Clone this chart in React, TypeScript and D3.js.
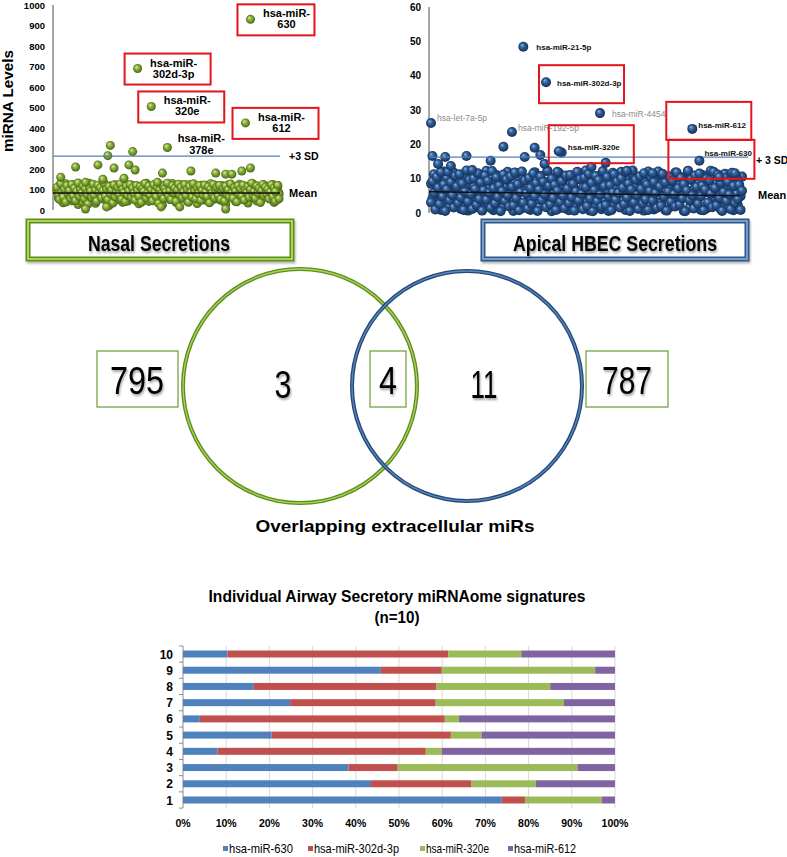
import * as d3 from 'd3';

// ---- data ----
// nasal secretions: background miRNA levels (two overlapping rows of the cloud, left to right)
const nasalLevels = [
  92, 58, 121, 70, 104, 35, 86, 128, 64, 97, 79, 113, 45, 91, 68, 124, 82, 27, 107, 74,
  40, 116, 88, 66, 101, 52, 130, 77, 96, 60, 112, 33, 84, 119, 71, 99, 56, 126, 80, 48,
  105, 90, 22, 118, 73, 95, 62, 123, 85, 50, 109, 76, 94, 38, 127, 69, 102, 44, 87, 115,
  65, 93, 54, 120, 81, 103, 30, 89, 117, 70, 100, 57, 131, 83, 42, 110, 75, 96, 61, 125,
  86, 46, 106, 72, 98, 25, 119, 79, 93, 63, 114, 51, 88, 129, 71, 101, 36, 116, 84, 55,
  95, 122, 67, 82, 108, 43, 91, 125, 68, 99, 59, 117, 87, 31, 104, 76, 121, 62, 92, 49,
  111, 80, 97, 39, 128, 72, 102, 53, 89, 118, 66, 94, 47, 120, 83, 105, 28, 98, 123, 70,
  100, 60, 115, 85, 41, 109, 74, 126, 63, 94, 57, 113, 79, 103, 34, 118, 88, 67, 127, 59,
  97, 45, 116, 78, 106, 52, 92, 122, 73, 99, 86, 58, 112, 72, 124, 37, 97, 49, 108, 83,
];
const nasalLevelsB = [
  110, 74, 52, 128, 88, 63, 101, 39, 119, 81, 95, 57, 124, 70, 106, 46, 91, 132, 66, 99,
  84, 118, 55, 103, 77, 29, 113, 92, 61, 126, 72, 98, 43, 121, 86, 108, 59, 94, 130, 68,
  102, 50, 115, 79, 97, 34, 122, 64, 89, 111, 76, 127, 53, 100, 85, 41, 117, 71, 93, 125,
  62, 107, 80, 48, 120, 96, 67, 114, 37, 104, 90, 129, 58, 82, 116, 73, 99, 45, 123, 87,
  65, 109, 32, 98, 78, 121, 56, 103, 88, 131, 69, 94, 51, 118, 83, 106, 42, 97, 126, 74,
  112, 60, 89, 124, 71, 101, 38, 115, 85, 63, 128, 92, 54, 108, 79, 119, 47, 96, 72, 122,
  87, 66, 113, 35, 102, 81, 125, 59, 95, 110, 70, 120, 52, 91, 105, 44, 116, 77, 99, 64,
  127, 84, 57, 109, 93, 40, 118, 75, 103, 68, 121, 49, 97, 86, 114, 62, 100, 131, 73, 90,
  58, 117, 82, 106, 36, 95, 124, 69, 111, 79, 101, 54, 88, 123, 66, 107, 43, 94, 119, 76,
];
// extra nasal points [index, level]
const nasalExtra: [number, number][] = [
  [3, 160], [15, 210], [33, 220], [41, 265], [43, 315], [46, 205], [58, 220], [61, 285],
  [63, 195], [85, 180], [108, 190], [149, 190], [156, 205], [37, 150], [23, 135], [54, 155],
  [128, 180], [136, 175], [141, 175], [81, 135], [23, 5], [40, 15], [84, 15], [99, 15],
  [136, 5], [179, 55], [178, 120], [176, 90],
];
const nasalNames = ['hsa-miR-630', 'hsa-miR-302d-3p', 'hsa-miR-320e', 'hsa-miR-612', 'hsa-miR-378e'];
const nasalIdx = [156, 65, 76, 152, 89];
const nasalVals = [930, 690, 505, 425, 305];
const nasalBoxed = [true, true, true, true, false];
const nasalMean = 83;
const nasalSD3 = 263;

// apical HBEC secretions
const apicalLevels = [
  8.5, 4.2, 11.3, 6.1, 2.4, 9.8, 5.3, 0.9, 7.6, 12.1, 3.5, 10.2, 6.8, 1.8, 8.9, 4.7, 11.8, 2.9, 7.1, 5.6,
  9.4, 1.2, 6.5, 10.9, 3.8, 8.2, 0.7, 5.9, 11.5, 4.4, 7.8, 2.2, 9.9, 6.3, 1.5, 10.6, 3.1, 8.6, 5.1, 12.3,
  2.7, 7.3, 4.9, 9.1, 0.8, 6.7, 11.1, 3.6, 8.1, 5.4, 10.4, 1.9, 7.5, 4.1, 12.0, 2.5, 9.3, 6.0, 0.6, 8.8,
  5.2, 11.6, 3.3, 7.9, 1.4, 10.1, 6.4, 2.8, 9.6, 4.6, 0.9, 8.4, 5.7, 11.9, 3.0, 7.0, 1.7, 10.8, 6.2, 4.0,
  9.0, 2.1, 12.2, 5.0, 7.7, 0.5, 10.3, 3.9, 8.3, 6.6, 1.3, 11.2, 4.5, 9.5, 2.6, 7.2, 5.5, 0.8, 10.7, 3.4,
  8.7, 6.9, 1.6, 11.4, 4.3, 9.7, 2.3, 7.4, 5.8, 12.4, 3.2, 8.0, 0.7, 6.1, 10.0, 4.8, 2.0, 9.2, 5.3, 11.0,
  1.1, 7.6, 3.7, 10.5, 6.3, 0.6, 8.5, 4.2, 11.7, 2.4, 9.8, 5.9, 1.9, 7.1, 12.0, 3.5, 6.8, 0.9, 10.2, 4.6,
  8.1, 2.7, 11.3, 5.4, 7.8, 1.4, 9.4, 3.8, 6.5, 10.9, 0.7, 8.9, 4.4, 12.1, 2.2, 7.3, 5.1, 1.0, 9.9, 3.1,
  6.7, 11.5, 2.9, 8.6, 4.9, 0.8, 10.6, 5.6, 7.5, 1.8, 9.1, 3.6, 11.8, 6.0, 2.5, 8.2, 4.1, 10.4, 0.6, 7.0,
  5.3, 12.2, 1.5, 9.6, 3.3, 6.9, 10.1, 2.0, 8.4, 4.7, 0.9, 11.1, 5.8, 7.7, 1.3, 9.3, 3.0, 12.3, 6.2, 4.3,
  8.8, 2.6, 10.7, 5.0, 1.1, 7.9, 3.9, 11.4, 6.6, 2.1, 9.7, 3.4, 7.2, 0.8, 11.0, 5.6, 2.3, 8.0, 4.9, 10.6,
];
const apicalLevelsB = [
  3.1, 9.2, 5.8, 1.0, 10.5, 7.4, 2.6, 11.9, 4.8, 8.3, 0.6, 6.9, 12.0, 3.7, 9.0, 5.2, 1.6, 10.8, 7.7, 2.9,
  11.3, 4.5, 8.6, 0.9, 6.2, 12.4, 3.3, 9.7, 5.5, 1.2, 10.1, 7.0, 2.4, 11.6, 4.1, 8.9, 0.7, 6.6, 10.9, 3.9,
  9.4, 5.9, 1.5, 12.2, 7.2, 2.8, 10.4, 4.7, 8.0, 0.5, 6.4, 11.2, 3.5, 9.8, 5.1, 1.9, 10.7, 7.6, 2.2, 11.8,
  4.3, 8.4, 0.8, 6.1, 12.1, 3.0, 9.5, 5.7, 1.3, 10.2, 7.3, 2.7, 11.5, 4.9, 8.7, 0.6, 6.8, 10.6, 3.8, 9.1,
  5.4, 1.7, 12.3, 7.9, 2.5, 10.0, 4.4, 8.2, 0.9, 6.5, 11.7, 3.2, 9.3, 5.0, 1.4, 10.9, 7.1, 2.9, 11.1, 4.6,
  8.5, 0.7, 6.3, 12.0, 3.6, 9.9, 5.6, 1.1, 10.3, 7.5, 2.0, 11.4, 4.2, 8.8, 0.5, 6.7, 10.8, 3.4, 9.6, 5.3,
  1.8, 12.2, 7.8, 2.3, 10.5, 4.8, 8.1, 0.8, 6.0, 11.3, 3.9, 9.2, 5.9, 1.6, 10.1, 7.4, 2.6, 11.9, 4.5, 8.6,
  0.6, 6.9, 12.4, 3.1, 9.7, 5.2, 1.2, 10.7, 7.0, 2.8, 11.6, 4.0, 8.3, 0.9, 6.4, 10.4, 3.6, 9.0, 5.8, 1.5,
  12.1, 7.7, 2.1, 11.0, 4.7, 8.9, 0.7, 6.2, 10.6, 3.3, 9.4, 5.5, 1.9, 11.8, 7.2, 2.4, 10.2, 4.3, 8.4, 0.5,
  6.6, 12.3, 3.8, 9.8, 5.1, 1.3, 10.9, 7.6, 2.7, 11.5, 4.9, 8.0, 0.8, 6.8, 10.0, 3.0, 9.5, 5.6, 1.7, 12.0,
  7.3, 2.2, 11.2, 4.4, 8.7, 0.6, 6.1, 10.3, 3.5, 9.1, 5.4, 1.1, 11.7, 7.9, 2.9, 10.6, 4.1, 8.2, 0.9, 6.5,
];
const apicalExtra: [number, number][] = [
  [1, 16.6], [5, 14.3], [10, 16.3], [14, 13.7], [25, 16.6], [29, 12.5], [42, 15.2], [51, 19.3],
  [66, 16.3], [73, 19.0], [77, 16.9], [80, 14.3], [89, 12.0], [113, 13.4], [123, 14.6], [138, 12.3],
  [156, 11.6], [163, 11.4], [203, 10.5], [214, 11.6], [92, 17.6],
];
const apicalNames = ['hsa-let-7a-5p', 'hsa-miR-21-5p', 'hsa-miR-302d-3p', 'hsa-miR-4454', 'hsa-miR-192-5p', 'hsa-miR-320e', 'hsa-miR-612', 'hsa-miR-630'];
const apicalIdx = [0, 65, 81, 119, 57, 90, 184, 189];
const apicalVals = [26.2, 48.4, 38.1, 29.1, 23.6, 18.0, 24.5, 15.2];
const apicalBoxed = [false, false, true, false, false, true, true, true];
const apicalGray = [true, false, false, true, true, false, false, false];
const apicalMeanStart = 6.2;
const apicalMeanEnd = 5.0;
const apicalSD3 = 16.3;

// venn counts
const nasalOnlyTotal = 795;
const nasalOnlyHits = 3;
const sharedHits = 4;
const apicalOnlyHits = 11;
const apicalOnlyTotal = 787;

// individual signatures (sample 1..10), percent
const samples = ['1', '2', '3', '4', '5', '6', '7', '8', '9', '10'];
const mirKeys = ['hsa-miR-630', 'hsa-miR-302d-3p', 'hsa-miR-320e', 'hsa-miR-612'];
const mir630 = [73.8, 43.5, 38.3, 8.0, 20.5, 3.9, 24.8, 16.4, 45.8, 10.3];
const mir302 = [5.4, 23.3, 11.4, 48.2, 41.5, 56.7, 33.7, 42.2, 14.1, 51.1];
const mir320 = [17.7, 14.9, 41.6, 3.7, 7.1, 3.3, 29.7, 26.4, 35.5, 16.9];
const mir612 = [3.1, 18.3, 8.7, 40.1, 30.9, 36.1, 11.8, 15.0, 4.6, 21.7];
const mirColors = ['#4f81bd', '#c0504d', '#9bbb59', '#8064a2'];

const NARROW = '"Liberation Sans Narrow", "Arial Narrow", "Liberation Sans", Arial, sans-serif';
const SANS = '"Liberation Sans", Arial, sans-serif';

function NasalPanel() {
  const y = d3.scaleLinear().domain([0, 1000]).range([210, 5]);
  const x = d3.scaleLinear().domain([0, nasalLevels.length - 1]).range([57, 279]);
  return (
    <g>
      <text transform="translate(13,101) rotate(-90)" textAnchor="middle" fontFamily={SANS} fontWeight="bold" fontSize={14} textLength={102} lengthAdjust="spacingAndGlyphs">miRNA  Levels</text>
      <line x1={53} x2={53} y1={y(1000)} y2={y(0)} stroke="#a6a6a6" strokeWidth={2} />
      {y.ticks(10).map((t) => (
        <text key={t} x={45} y={y(t) + 3.5} textAnchor="end" fontFamily={SANS} fontWeight="bold" fontSize={9.5}>{t}</text>
      ))}
      {nasalLevels.map((v, i) => (
        <circle key={i} cx={x(i)} cy={y(v)} r={4.5} fill="url(#gGreen)" />
      ))}
      {nasalLevelsB.map((v, i) => (
        <circle key={'b' + i} cx={x(i)} cy={y(v)} r={4.5} fill="url(#gGreen)" />
      ))}
      {nasalExtra.map(([i, v], k) => (
        <circle key={'e' + k} cx={x(i)} cy={y(v)} r={4.5} fill="url(#gGreen)" />
      ))}
      <line x1={53} x2={280} y1={y(nasalSD3)} y2={y(nasalSD3)} stroke="#4f81bd" strokeWidth={1.2} />
      <line x1={53} x2={280} y1={y(nasalMean)} y2={y(nasalMean)} stroke="#111" strokeWidth={1.5} />
      <text x={289} y={y(nasalSD3) + 4} fontFamily={SANS} fontWeight="bold" fontSize={10.5}>+3 SD</text>
      <text x={289} y={y(nasalMean) + 4} fontFamily={SANS} fontWeight="bold" fontSize={11}>Mean</text>
      {nasalNames.map((n, k) => {
        const px = x(nasalIdx[k]);
        const py = y(nasalVals[k]);
        const parts = n.split('hsa-miR-');
        const tx = px + (k === 4 ? 34 : 36);
        return (
          <g key={n}>
            {nasalBoxed[k] && (
              <rect x={px - 13} y={py - 15} width={k === 0 ? 77 : 86} height={31} fill="none" stroke="#e3141b" strokeWidth={2} />
            )}
            <circle cx={px} cy={py} r={4.5} fill="url(#gGreen)" />
            <text x={tx} y={py + (k === 4 ? -5 : -2)} textAnchor="middle" fontFamily={SANS} fontWeight="bold" fontSize={11}>hsa-miR-</text>
            <text x={tx} y={py + (k === 4 ? 7 : 9)} textAnchor="middle" fontFamily={SANS} fontWeight="bold" fontSize={11}>{parts[1]}</text>
          </g>
        );
      })}
    </g>
  );
}

function ApicalPanel() {
  const y = d3.scaleLinear().domain([0, 60]).range([213, 7]);
  const x = d3.scaleLinear().domain([0, apicalLevels.length - 1]).range([431, 742]);
  const boxOff = [null, null, [-7, -17, 85, 38], null, null, [-10, -26, 85, 38], [-26, -27, 85, 38], [-31, -21, 86, 39]];
  const labOff = [[6, -2], [13, 3], [11, 4], [12, 4], [6, -1], [9, -1], [6, -1], [5, -5]];
  return (
    <g>
      <line x1={429} x2={429} y1={y(60)} y2={y(0)} stroke="#a6a6a6" strokeWidth={2} />
      {y.ticks(6).map((t) => (
        <text key={t} x={421} y={y(t) + 3.5} textAnchor="end" fontFamily={SANS} fontWeight="bold" fontSize={10}>{t}</text>
      ))}
      {apicalLevels.map((v, i) => (
        <circle key={i} cx={x(i)} cy={y(v)} r={5} fill="url(#gBlue)" />
      ))}
      {apicalLevelsB.map((v, i) => (
        <circle key={'b' + i} cx={x(i)} cy={y(v)} r={5} fill="url(#gBlue)" />
      ))}
      {apicalExtra.map(([i, v], k) => (
        <circle key={'e' + k} cx={x(i)} cy={y(v)} r={5} fill="url(#gBlue)" />
      ))}
      <line x1={429} x2={748} y1={y(apicalSD3)} y2={y(apicalSD3)} stroke="#4f81bd" strokeWidth={1.2} />
      <line x1={429} x2={740} y1={y(apicalMeanStart)} y2={y(apicalMeanEnd)} stroke="#111" strokeWidth={1.5} />
      <text x={756} y={y(apicalSD3) + 7} fontFamily={SANS} fontWeight="bold" fontSize={10.5}>+ 3 SD</text>
      <text x={758} y={y(apicalMeanEnd) + 3} fontFamily={SANS} fontWeight="bold" fontSize={11}>Mean</text>
      {apicalNames.map((n, k) => {
        const px = x(apicalIdx[k]);
        const py = y(apicalVals[k]);
        const b = boxOff[k];
        return (
          <g key={n}>
            <circle cx={px} cy={py} r={5} fill="url(#gBlue)" />
            <text x={px + labOff[k][0]} y={py + labOff[k][1]} fontFamily={SANS} fontWeight={apicalGray[k] ? 'normal' : 'bold'} fontSize={apicalGray[k] ? 8.5 : 8} fill={apicalGray[k] ? '#8c8c8c' : '#111'}>{n}</text>
            {apicalBoxed[k] && b && (
              <rect x={px + b[0]} y={py + b[1]} width={b[2]} height={b[3]} fill="none" stroke="#e3141b" strokeWidth={2} />
            )}
          </g>
        );
      })}
    </g>
  );
}

function Venn() {
  const numStyle = { fontFamily: NARROW, fontSize: 38, filter: 'url(#shadow)', lengthAdjust: 'spacingAndGlyphs' } as const;
  return (
    <g>
      {/* panel labels */}
      <g filter="url(#shadowBox)">
        <rect x={28} y={221} width={264} height={38} fill="#fff" stroke="#5f8d1e" strokeWidth={5} />
        <rect x={28} y={221} width={264} height={38} fill="none" stroke="#a9d45a" strokeWidth={2} />
        <rect x={483} y={221} width={264} height={38} fill="#fff" stroke="#2f5687" strokeWidth={5} />
        <rect x={483} y={221} width={264} height={38} fill="none" stroke="#7a9cc8" strokeWidth={2} />
      </g>
      <text x={159} y={251} textAnchor="middle" fontFamily={NARROW} fontWeight="bold" fontSize={22} textLength={142} lengthAdjust="spacingAndGlyphs" filter="url(#shadow)">Nasal Secretions</text>
      <text x={615} y={251} textAnchor="middle" fontFamily={NARROW} fontWeight="bold" fontSize={22} textLength={204} lengthAdjust="spacingAndGlyphs" filter="url(#shadow)">Apical HBEC Secretions</text>

      {/* circles */}
      <circle cx={300} cy={386} r={117} fill="none" stroke="#5f8d1e" strokeWidth={4} />
      <circle cx={300} cy={386} r={117} fill="none" stroke="#a9d45a" strokeWidth={1.3} />
      <circle cx={467} cy={386} r={115} fill="none" stroke="#21497a" strokeWidth={4} />
      <circle cx={467} cy={386} r={115} fill="none" stroke="#5f86b8" strokeWidth={1.3} />

      <rect x={97} y={351} width={81} height={56} fill="#fff" stroke="#6a9c34" strokeWidth={1.2} />
      <rect x={370} y={351} width={36} height={56} fill="none" stroke="#6a9c34" strokeWidth={1.2} />
      <rect x={586} y={351} width={82} height={56} fill="#fff" stroke="#6a9c34" strokeWidth={1.2} />
      <text x={137} y={394} textAnchor="middle" {...numStyle} textLength={54}>{nasalOnlyTotal}</text>
      <text x={283} y={398} textAnchor="middle" {...numStyle} textLength={17}>{nasalOnlyHits}</text>
      <text x={388} y={394} textAnchor="middle" {...numStyle} textLength={18}>{sharedHits}</text>
      <text x={484} y={398} textAnchor="middle" {...numStyle} textLength={27}>{apicalOnlyHits}</text>
      <text x={627} y={394} textAnchor="middle" {...numStyle} textLength={50}>{apicalOnlyTotal}</text>

      <text x={395} y={532} textAnchor="middle" fontFamily={SANS} fontWeight="bold" fontSize={17} textLength={279} lengthAdjust="spacingAndGlyphs">Overlapping extracellular miRs</text>
    </g>
  );
}

function SignatureBars() {
  const rows = samples.map((s, i) => ({
    sample: s,
    [mirKeys[0]]: mir630[i],
    [mirKeys[1]]: mir302[i],
    [mirKeys[2]]: mir320[i],
    [mirKeys[3]]: mir612[i],
  }));
  const stacked = d3.stack<any>().keys(mirKeys)(rows);
  const x = d3.scaleLinear().domain([0, 100]).range([183, 615]);
  const y = d3.scalePoint().domain(samples).range([800, 654]);
  const barH = 7;
  const top = 646;
  const bottom = 808;
  const step = y.step();
  const legendX = [223, 308, 420, 508];
  const legendW = [64, 85, 63, 62];
  return (
    <g>
      <text x={397} y={602} textAnchor="middle" fontFamily={NARROW} fontWeight="bold" fontSize={17} textLength={377} lengthAdjust="spacingAndGlyphs">Individual Airway Secretory miRNAome signatures</text>
      <text x={397} y={623} textAnchor="middle" fontFamily={NARROW} fontWeight="bold" fontSize={17} textLength={45} lengthAdjust="spacingAndGlyphs">(n=10)</text>
      {x.ticks(10).map((t) => (
        <g key={t}>
          {t > 0 && <line x1={x(t)} x2={x(t)} y1={top} y2={bottom} stroke="#d9d9d9" strokeWidth={1} />}
          <text x={x(t)} y={827} textAnchor="middle" fontFamily={SANS} fontWeight="bold" fontSize={10.5}>{t}%</text>
        </g>
      ))}
      <line x1={183} x2={183} y1={top} y2={bottom} stroke="#8c8c8c" strokeWidth={1} />
      {samples.map((s) => (
        <g key={s}>
          <line x1={179} x2={183} y1={y(s)! + step / 2} y2={y(s)! + step / 2} stroke="#8c8c8c" />
          <text x={173} y={y(s)! + 4.5} textAnchor="end" fontFamily={SANS} fontWeight="bold" fontSize={12}>{s}</text>
        </g>
      ))}
      <line x1={179} x2={183} y1={top} y2={top} stroke="#8c8c8c" />
      {stacked.map((layer, li) => (
        <g key={layer.key} fill={mirColors[li]}>
          {layer.map((d, i) => (
            <rect key={i} x={x(d[0])} y={y(samples[i])! - barH / 2} width={x(d[1]) - x(d[0])} height={barH} />
          ))}
        </g>
      ))}
      {mirKeys.map((k, i) => (
        <g key={k}>
          <rect x={legendX[i]} y={846} width={5} height={5} fill={mirColors[i]} />
          <text x={legendX[i] + 6} y={853} fontFamily={NARROW} fontSize={13} textLength={legendW[i]} lengthAdjust="spacingAndGlyphs">{k}</text>
        </g>
      ))}
    </g>
  );
}

export default function App() {
  return (
    <svg width={787} height={857} style={{ position: 'absolute', left: 0, top: 0, background: '#fff' }}>
      <defs>
        <radialGradient id="gGreen" cx="50%" cy="50%" r="55%" fx="35%" fy="30%">
          <stop offset="0%" stopColor="#d8ee95" />
          <stop offset="40%" stopColor="#8db53c" />
          <stop offset="100%" stopColor="#405c12" />
        </radialGradient>
        <radialGradient id="gBlue" cx="50%" cy="50%" r="55%" fx="35%" fy="30%">
          <stop offset="0%" stopColor="#8fb6e6" />
          <stop offset="40%" stopColor="#2f609c" />
          <stop offset="100%" stopColor="#13294d" />
        </radialGradient>
        <filter id="shadow" x="-20%" y="-20%" width="140%" height="160%">
          <feDropShadow dx={1} dy={2} stdDeviation={1} floodColor="#000" floodOpacity={0.35} />
        </filter>
        <filter id="shadowBox" x="-5%" y="-20%" width="110%" height="150%">
          <feDropShadow dx={1} dy={2} stdDeviation={1.2} floodColor="#000" floodOpacity={0.3} />
        </filter>
      </defs>
      <rect width={787} height={857} fill="#fff" />
      <NasalPanel />
      <ApicalPanel />
      <Venn />
      <SignatureBars />
    </svg>
  );
}
